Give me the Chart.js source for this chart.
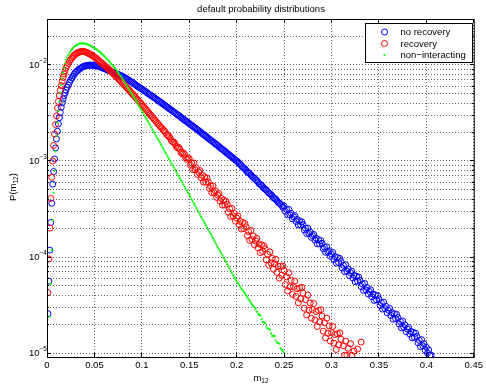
<!DOCTYPE html>
<html>
<head>
<meta charset="utf-8">
<script src="https://cdn.jsdelivr.net/npm/chart.js@4.4.1/dist/chart.umd.min.js"></script>
<style>
  html, body { margin: 0; padding: 0; background: #fff; }
  canvas { display: block; }
</style>
</head>
<body>
<canvas id="distChart" width="486" height="384"></canvas>
<script>
// m12 bin centres: 0.001 steps on the steep rise, then every 0.00125
const m12 = [
  0.001, 0.002, 0.003, 0.004, 0.005, 0.006, 0.007, 0.008, 0.009, 0.010, 0.011, 0.012, 0.013, 0.014, 0.015, 0.016, 0.017, 0.018, 0.019,
  0.02000, 0.02125, 0.02250, 0.02375, 0.02500, 0.02625, 0.02750, 0.02875,
  0.03000, 0.03125, 0.03250, 0.03375, 0.03500, 0.03625, 0.03750, 0.03875,
  0.04000, 0.04125, 0.04250, 0.04375, 0.04500, 0.04625, 0.04750, 0.04875,
  0.05000, 0.05125, 0.05250, 0.05375, 0.05500, 0.05625, 0.05750, 0.05875,
  0.06000, 0.06125, 0.06250, 0.06375, 0.06500, 0.06625, 0.06750, 0.06875,
  0.07000, 0.07125, 0.07250, 0.07375, 0.07500, 0.07625, 0.07750, 0.07875,
  0.08000, 0.08125, 0.08250, 0.08375, 0.08500, 0.08625, 0.08750, 0.08875,
  0.09000, 0.09125, 0.09250, 0.09375, 0.09500, 0.09625, 0.09750, 0.09875,
  0.10000, 0.10125, 0.10250, 0.10375, 0.10500, 0.10625, 0.10750, 0.10875,
  0.11000, 0.11125, 0.11250, 0.11375, 0.11500, 0.11625, 0.11750, 0.11875,
  0.12000, 0.12125, 0.12250, 0.12375, 0.12500, 0.12625, 0.12750, 0.12875,
  0.13000, 0.13125, 0.13250, 0.13375, 0.13500, 0.13625, 0.13750, 0.13875,
  0.14000, 0.14125, 0.14250, 0.14375, 0.14500, 0.14625, 0.14750, 0.14875,
  0.15000, 0.15125, 0.15250, 0.15375, 0.15500, 0.15625, 0.15750, 0.15875,
  0.16000, 0.16125, 0.16250, 0.16375, 0.16500, 0.16625, 0.16750, 0.16875,
  0.17000, 0.17125, 0.17250, 0.17375, 0.17500, 0.17625, 0.17750, 0.17875,
  0.18000, 0.18125, 0.18250, 0.18375, 0.18500, 0.18625, 0.18750, 0.18875,
  0.19000, 0.19125, 0.19250, 0.19375, 0.19500, 0.19625, 0.19750, 0.19875,
  0.20000, 0.20125, 0.20250, 0.20375, 0.20500, 0.20625, 0.20750, 0.20875,
  0.21000, 0.21125, 0.21250, 0.21375, 0.21500, 0.21625, 0.21750, 0.21875,
  0.22000, 0.22125, 0.22250, 0.22375, 0.22500, 0.22625, 0.22750, 0.22875,
  0.23000, 0.23125, 0.23250, 0.23375, 0.23500, 0.23625, 0.23750, 0.23875,
  0.24000, 0.24125, 0.24250, 0.24375, 0.24500, 0.24625, 0.24750, 0.24875,
  0.25000, 0.25125, 0.25250, 0.25375, 0.25500, 0.25625, 0.25750, 0.25875,
  0.26000, 0.26125, 0.26250, 0.26375, 0.26500, 0.26625, 0.26750, 0.26875,
  0.27000, 0.27125, 0.27250, 0.27375, 0.27500, 0.27625, 0.27750, 0.27875,
  0.28000, 0.28125, 0.28250, 0.28375, 0.28500, 0.28625, 0.28750, 0.28875,
  0.29000, 0.29125, 0.29250, 0.29375, 0.29500, 0.29625, 0.29750, 0.29875,
  0.30000, 0.30125, 0.30250, 0.30375, 0.30500, 0.30625, 0.30750, 0.30875,
  0.31000, 0.31125, 0.31250, 0.31375, 0.31500, 0.31625, 0.31750, 0.31875,
  0.32000, 0.32125, 0.32250, 0.32375, 0.32500, 0.32625, 0.32750, 0.32875,
  0.33000, 0.33125, 0.33250, 0.33375, 0.33500, 0.33625, 0.33750, 0.33875,
  0.34000, 0.34125, 0.34250, 0.34375, 0.34500, 0.34625, 0.34750, 0.34875,
  0.35000, 0.35125, 0.35250, 0.35375, 0.35500, 0.35625, 0.35750, 0.35875,
  0.36000, 0.36125, 0.36250, 0.36375, 0.36500, 0.36625, 0.36750, 0.36875,
  0.37000, 0.37125, 0.37250, 0.37375, 0.37500, 0.37625, 0.37750, 0.37875,
  0.38000, 0.38125, 0.38250, 0.38375, 0.38500, 0.38625, 0.38750, 0.38875,
  0.39000, 0.39125, 0.39250, 0.39375, 0.39500, 0.39625, 0.39750, 0.39875,
  0.40000, 0.40125, 0.40250, 0.40375, 0.40500
];

// P(m12), no recovery (blue circles)
const noRecovery = [
  2.57e-5, 5.62e-5, 1.18e-4, 2.29e-4, 3.63e-4, 5.75e-4, 7.76e-4, 1.05e-3, 1.37e-3, 1.70e-3, 2.04e-3, 2.43e-3, 2.82e-3, 3.20e-3, 3.63e-3, 4.03e-3, 4.42e-3, 4.79e-3, 5.13e-3,
  5.50e-3, 5.86e-3, 6.19e-3, 6.60e-3, 6.98e-3, 7.31e-3, 7.67e-3, 8.04e-3,
  8.36e-3, 8.58e-3, 8.77e-3, 8.97e-3, 9.20e-3, 9.35e-3, 9.53e-3, 9.68e-3,
  9.77e-3, 9.84e-3, 9.89e-3, 9.93e-3, 9.95e-3, 9.97e-3, 9.95e-3, 9.92e-3,
  9.89e-3, 9.82e-3, 9.77e-3, 9.72e-3, 9.64e-3, 9.52e-3, 9.42e-3, 9.30e-3,
  9.20e-3, 9.10e-3, 8.98e-3, 8.86e-3, 8.77e-3, 8.67e-3, 8.55e-3, 8.44e-3,
  8.36e-3, 8.25e-3, 8.15e-3, 8.05e-3, 7.96e-3, 7.88e-3, 7.78e-3, 7.68e-3,
  7.59e-3, 7.45e-3, 7.33e-3, 7.20e-3, 7.06e-3, 6.94e-3, 6.81e-3, 6.70e-3,
  6.58e-3, 6.44e-3, 6.31e-3, 6.17e-3, 6.04e-3, 5.93e-3, 5.83e-3, 5.72e-3,
  5.62e-3, 5.50e-3, 5.40e-3, 5.30e-3, 5.19e-3, 5.08e-3, 4.98e-3, 4.89e-3,
  4.79e-3, 4.69e-3, 4.60e-3, 4.51e-3, 4.42e-3, 4.33e-3, 4.24e-3, 4.16e-3,
  4.07e-3, 3.99e-3, 3.91e-3, 3.83e-3, 3.75e-3, 3.67e-3, 3.60e-3, 3.52e-3,
  3.45e-3, 3.38e-3, 3.30e-3, 3.24e-3, 3.17e-3, 3.10e-3, 3.04e-3, 2.98e-3,
  2.92e-3, 2.85e-3, 2.79e-3, 2.73e-3, 2.67e-3, 2.62e-3, 2.56e-3, 2.51e-3,
  2.46e-3, 2.40e-3, 2.35e-3, 2.30e-3, 2.25e-3, 2.21e-3, 2.16e-3, 2.11e-3,
  2.07e-3, 2.02e-3, 1.98e-3, 1.93e-3, 1.89e-3, 1.85e-3, 1.81e-3, 1.77e-3,
  1.73e-3, 1.69e-3, 1.65e-3, 1.62e-3, 1.58e-3, 1.55e-3, 1.51e-3, 1.48e-3,
  1.45e-3, 1.41e-3, 1.38e-3, 1.35e-3, 1.32e-3, 1.29e-3, 1.26e-3, 1.23e-3,
  1.20e-3, 1.18e-3, 1.15e-3, 1.12e-3, 1.10e-3, 1.07e-3, 1.05e-3, 1.02e-3,
  1.00e-3, 9.80e-4, 9.46e-4, 9.25e-4, 8.93e-4, 8.62e-4, 8.45e-4, 8.28e-4,
  7.98e-4, 7.70e-4, 7.55e-4, 7.40e-4, 7.14e-4, 6.92e-4, 6.75e-4, 6.62e-4,
  6.38e-4, 6.26e-4, 6.04e-4, 5.80e-4, 5.70e-4, 5.58e-4, 5.40e-4, 5.20e-4,
  5.09e-4, 5.00e-4, 4.82e-4, 4.64e-4, 4.56e-4, 4.47e-4, 4.31e-4, 4.14e-4,
  4.07e-4, 4.00e-4, 3.85e-4, 3.70e-4, 3.64e-4, 3.56e-4, 3.44e-4, 3.29e-4,
  3.40e-4, 2.99e-4, 3.13e-4, 2.75e-4, 3.13e-4, 2.75e-4, 2.85e-4, 2.50e-4,
  2.62e-4, 2.70e-4, 2.35e-4, 2.46e-4, 2.16e-4, 2.39e-4, 2.16e-4, 2.32e-4,
  2.18e-4, 1.91e-4, 2.00e-4, 1.76e-4, 2.00e-4, 1.76e-4, 1.83e-4, 1.60e-4,
  1.67e-4, 1.72e-4, 1.50e-4, 1.57e-4, 1.37e-4, 1.52e-4, 1.37e-4, 1.48e-4,
  1.39e-4, 1.22e-4, 1.27e-4, 1.12e-4, 1.28e-4, 1.12e-4, 1.16e-4, 1.02e-4,
  1.07e-4, 1.12e-4, 9.44e-5, 1.01e-4, 8.65e-5, 9.89e-5, 8.76e-5, 9.67e-5,
  8.98e-5, 7.70e-5, 8.20e-5, 7.04e-5, 8.31e-5, 7.12e-5, 7.51e-5, 6.43e-5,
  6.86e-5, 7.14e-5, 6.05e-5, 6.45e-5, 5.53e-5, 6.31e-5, 5.60e-5, 6.18e-5,
  5.74e-5, 4.92e-5, 5.24e-5, 4.49e-5, 5.30e-5, 4.55e-5, 4.80e-5, 4.11e-5,
  4.38e-5, 4.56e-5, 3.86e-5, 4.12e-5, 3.53e-5, 4.03e-5, 3.58e-5, 3.95e-5,
  3.66e-5, 3.13e-5, 3.35e-5, 2.87e-5, 3.39e-5, 2.90e-5, 3.06e-5, 2.62e-5,
  2.79e-5, 2.92e-5, 2.46e-5, 2.63e-5, 2.25e-5, 2.57e-5, 2.29e-5, 2.52e-5,
  2.34e-5, 2.01e-5, 2.14e-5, 1.83e-5, 2.16e-5, 1.85e-5, 1.96e-5, 1.67e-5,
  1.78e-5, 1.85e-5, 1.58e-5, 1.68e-5, 1.44e-5, 1.64e-5, 1.46e-5, 1.61e-5,
  1.49e-5, 1.28e-5, 1.36e-5, 1.17e-5, 1.38e-5, 1.19e-5, 1.25e-5, 1.07e-5,
  1.15e-5, 1.0e-5, 1.08e-5, 9.5e-6, 9.5e-6
];

// P(m12), recovery (red circles)
const recovery = [
  4.27e-5, 9.55e-5, 2.00e-4, 4.07e-4, 6.76e-4, 1.00e-3, 1.45e-3, 1.91e-3, 2.40e-3, 2.95e-3, 3.55e-3, 4.17e-3, 4.79e-3, 5.43e-3, 6.10e-3, 6.76e-3, 7.41e-3, 8.04e-3, 8.71e-3,
  9.33e-3, 9.85e-3, 1.035e-2, 1.09e-2, 1.135e-2, 1.18e-2, 1.225e-2, 1.26e-2,
  1.29e-2, 1.32e-2, 1.34e-2, 1.36e-2, 1.37e-2, 1.38e-2, 1.38e-2, 1.38e-2,
  1.37e-2, 1.36e-2, 1.34e-2, 1.32e-2, 1.30e-2, 1.28e-2, 1.26e-2, 1.235e-2,
  1.21e-2, 1.185e-2, 1.16e-2, 1.13e-2, 1.10e-2, 1.075e-2, 1.05e-2, 1.025e-2,
  1.00e-2, 9.75e-3, 9.51e-3, 9.26e-3, 9.02e-3, 8.78e-3, 8.55e-3, 8.32e-3,
  8.09e-3, 7.87e-3, 7.66e-3, 7.44e-3, 7.23e-3, 7.02e-3, 6.82e-3, 6.62e-3,
  6.43e-3, 6.23e-3, 6.04e-3, 5.86e-3, 5.68e-3, 5.50e-3, 5.33e-3, 5.17e-3,
  5.01e-3, 4.85e-3, 4.70e-3, 4.55e-3, 4.41e-3, 4.27e-3, 4.13e-3, 4.00e-3,
  3.87e-3, 3.74e-3, 3.62e-3, 3.50e-3, 3.38e-3, 3.27e-3, 3.16e-3, 3.05e-3,
  2.95e-3, 2.85e-3, 2.76e-3, 2.67e-3, 2.58e-3, 2.49e-3, 2.41e-3, 2.33e-3,
  2.25e-3, 2.20e-3, 2.10e-3, 2.06e-3, 1.97e-3, 1.88e-3, 1.84e-3, 1.80e-3,
  1.72e-3, 1.63e-3, 1.58e-3, 1.57e-3, 1.52e-3, 1.42e-3, 1.37e-3, 1.39e-3,
  1.33e-3, 1.23e-3, 1.19e-3, 1.22e-3, 1.17e-3, 1.08e-3, 1.04e-3, 1.07e-3,
  1.06e-3, 9.01e-4, 9.54e-4, 8.14e-4, 9.55e-4, 8.12e-4, 8.51e-4, 7.25e-4,
  7.68e-4, 7.95e-4, 6.68e-4, 7.08e-4, 6.03e-4, 6.84e-4, 6.03e-4, 6.61e-4,
  6.09e-4, 5.19e-4, 5.49e-4, 4.68e-4, 5.49e-4, 4.68e-4, 4.90e-4, 4.17e-4,
  4.42e-4, 4.57e-4, 3.84e-4, 4.08e-4, 3.47e-4, 3.93e-4, 3.47e-4, 3.80e-4,
  3.55e-4, 2.94e-4, 3.18e-4, 2.64e-4, 3.22e-4, 2.68e-4, 2.84e-4, 2.36e-4,
  2.55e-4, 2.68e-4, 2.18e-4, 2.35e-4, 1.96e-4, 2.29e-4, 1.98e-4, 2.23e-4,
  2.07e-4, 1.67e-4, 1.84e-4, 1.49e-4, 1.89e-4, 1.52e-4, 1.65e-4, 1.34e-4,
  1.47e-4, 1.57e-4, 1.25e-4, 1.37e-4, 1.11e-4, 1.34e-4, 1.14e-4, 1.31e-4,
  1.22e-4, 9.36e-5, 1.07e-4, 8.22e-5, 1.13e-4, 8.69e-5, 9.69e-5, 7.46e-5,
  8.52e-5, 9.45e-5, 6.92e-5, 8.04e-5, 6.03e-5, 8.04e-5, 6.47e-5, 8.04e-5,
  7.24e-5, 5.17e-5, 6.23e-5, 4.44e-5, 6.86e-5, 4.89e-5, 5.73e-5, 4.09e-5,
  4.92e-5, 5.62e-5, 3.89e-5, 4.69e-5, 3.34e-5, 4.76e-5, 3.68e-5, 4.82e-5,
  4.21e-5, 2.93e-5, 3.60e-5, 2.50e-5, 4.02e-5, 2.79e-5, 3.32e-5, 2.31e-5,
  2.83e-5, 3.28e-5, 2.21e-5, 2.71e-5, 1.89e-5, 2.78e-5, 2.11e-5, 2.83e-5,
  2.43e-5, 1.69e-5, 2.07e-5, 1.44e-5, 2.31e-5, 1.61e-5, 1.92e-5, 1.33e-5,
  1.63e-5, 1.89e-5, 1.27e-5, 1.56e-5, 1.09e-5, 1.59e-5, 1.22e-5, 1.62e-5,
  1.39e-5, null, 1.19e-5, 9.5e-6, 1.33e-5, 9.5e-6, 1.12e-5, null,
  1.25e-5, 9.5e-6, null, 1.05e-5, null, null, 1.1e-5, null,
  null, 1.3e-5
];

// P(m12), non-interacting (green dots)
const nonInteracting = [
  null, null, 2.40e-5, 5.25e-5, 1.18e-4, 2.40e-4, 4.68e-4, 7.94e-4, 1.26e-3, 1.82e-3, 2.51e-3, 3.31e-3, 4.17e-3, 5.13e-3, 6.17e-3, 7.24e-3, 8.32e-3, 9.33e-3, 1.035e-2,
  1.135e-2, 1.20e-2, 1.27e-2, 1.335e-2, 1.40e-2, 1.45e-2, 1.50e-2, 1.545e-2,
  1.585e-2, 1.615e-2, 1.64e-2, 1.66e-2, 1.67e-2, 1.68e-2, 1.68e-2, 1.68e-2,
  1.67e-2, 1.655e-2, 1.64e-2, 1.62e-2, 1.60e-2, 1.575e-2, 1.55e-2, 1.525e-2,
  1.50e-2, 1.47e-2, 1.445e-2, 1.41e-2, 1.38e-2, 1.35e-2, 1.32e-2, 1.28e-2,
  1.245e-2, 1.21e-2, 1.175e-2, 1.14e-2, 1.11e-2, 1.07e-2, 1.035e-2, 1.00e-2,
  9.66e-3, 9.33e-3, 9.02e-3, 8.66e-3, 8.32e-3, 7.99e-3, 7.67e-3, 7.37e-3,
  7.08e-3, 6.76e-3, 6.46e-3, 6.17e-3, 5.89e-3, 5.62e-3, 5.37e-3, 5.13e-3,
  4.90e-3, 4.68e-3, 4.47e-3, 4.27e-3, 4.07e-3, 3.86e-3, 3.67e-3, 3.51e-3,
  3.35e-3, 3.19e-3, 3.03e-3, 2.88e-3, 2.74e-3, 2.60e-3, 2.47e-3, 2.35e-3,
  2.23e-3, 2.12e-3, 2.02e-3, 1.92e-3, 1.82e-3, 1.73e-3, 1.65e-3, 1.57e-3,
  1.49e-3, 1.42e-3, 1.35e-3, 1.28e-3, 1.22e-3, 1.16e-3, 1.10e-3, 1.045e-3,
  9.93e-4, 9.44e-4, 8.97e-4, 8.53e-4, 8.11e-4, 7.71e-4, 7.33e-4, 6.97e-4,
  6.62e-4, 6.29e-4, 5.98e-4, 5.69e-4, 5.41e-4, 5.14e-4, 4.89e-4, 4.65e-4,
  4.42e-4, 4.19e-4, 3.98e-4, 3.78e-4, 3.59e-4, 3.41e-4, 3.24e-4, 3.08e-4,
  2.92e-4, 2.77e-4, 2.63e-4, 2.50e-4, 2.37e-4, 2.25e-4, 2.14e-4, 2.03e-4,
  1.93e-4, 1.83e-4, 1.74e-4, 1.65e-4, 1.57e-4, 1.49e-4, 1.41e-4, 1.34e-4,
  1.27e-4, 1.21e-4, 1.15e-4, 1.09e-4, 1.035e-4, 9.8e-5, 9.33e-5, 8.9e-5,
  8.41e-5, 8.0e-5, 7.59e-5, 7.2e-5, 6.84e-5, 6.5e-5, 6.17e-5, 5.85e-5,
  5.56e-5, 5.35e-5, 5.13e-5, 4.9e-5, 4.68e-5, 4.5e-5, 4.32e-5, 4.15e-5,
  3.98e-5, 3.8e-5, 3.63e-5, 3.5e-5, 3.35e-5, 3.2e-5, 3.09e-5, 3.0e-5,
  2.9e-5, 2.7e-5, 2.55e-5, 2.5e-5, 2.45e-5, 2.25e-5, 2.1e-5, 2.1e-5,
  2.05e-5, 1.9e-5, 1.8e-5, 1.8e-5, 1.75e-5, 1.6e-5, 1.5e-5, 1.52e-5,
  1.5e-5, 1.35e-5, 1.28e-5, 1.28e-5, 1.25e-5, 1.12e-5, 1.08e-5, 1.05e-5,
  1.0e-5
];

const seriesNames = ['no recovery', 'recovery', 'non\u2212interacting'];
const xTicks = [0, 0.05, 0.1, 0.15, 0.2, 0.25, 0.3, 0.35, 0.4, 0.45];
const xTickLabels = ['0', '0.05', '0.1', '0.15', '0.2', '0.25', '0.3', '0.35', '0.4', '0.45'];
const yDecades = [1e-5, 1e-4, 1e-3, 1e-2];
const yExponents = ['\u22125', '\u22124', '\u22123', '\u22122'];

const FONT = '"Liberation Sans", Arial, Helvetica, sans-serif';
const yMin = 9.1e-6, yMax = 0.0301;

// log grid lines at 1..9 x each decade
const yGrid = [];
yDecades.forEach(d => {
  for (let k = 1; k <= 9; k++) {
    if (k * d <= yMax) yGrid.push(k * d);
  }
});

function toPoints(values) {
  const pts = [];
  values.forEach((v, i) => {
    if (v !== null) pts.push({ x: m12[i], y: v });
  });
  return pts;
}

// draws text pieces (some lowered) centred on cx
function drawScripted(ctx, parts, cx, cy) {
  let total = 0;
  parts.forEach(p => {
    ctx.font = p.size + 'px ' + FONT;
    p.w = ctx.measureText(p.text).width;
    total += p.w;
  });
  let x = cx - total / 2;
  parts.forEach(p => {
    ctx.font = p.size + 'px ' + FONT;
    ctx.fillText(p.text, x, cy + (p.dy || 0));
    x += p.w;
  });
}

const matlabFrame = {
  id: 'matlabFrame',
  afterDraw(chart) {
    const { ctx, chartArea: a } = chart;
    const xs = chart.scales.x;
    const ys = chart.scales.y;
    const align = p => Math.round(p - 0.5) + 0.5;

    ctx.save();
    ctx.strokeStyle = '#000';
    ctx.lineWidth = 1;
    ctx.strokeRect(a.left + 0.5, a.top + 0.5, a.right - a.left, a.bottom - a.top);

    // tick marks pointing inwards
    ctx.beginPath();
    xTicks.forEach(v => {
      const px = align(xs.getPixelForValue(v));
      ctx.moveTo(px, a.bottom); ctx.lineTo(px, a.bottom - 4);
      ctx.moveTo(px, a.top); ctx.lineTo(px, a.top + 4);
    });
    yGrid.forEach(v => {
      const py = align(ys.getPixelForValue(v));
      const len = yDecades.includes(v) ? 4 : 2;
      ctx.moveTo(a.left, py); ctx.lineTo(a.left + len, py);
      ctx.moveTo(a.right, py); ctx.lineTo(a.right - len, py);
    });
    ctx.stroke();

    ctx.fillStyle = '#000';
    ctx.textBaseline = 'middle';

    // y tick labels 10^n
    yDecades.forEach((v, i) => {
      const py = ys.getPixelForValue(v);
      ctx.font = '9.5px ' + FONT;
      ctx.textAlign = 'right';
      ctx.fillText('10', 39.5, py + 0.5);
      ctx.font = '6.5px ' + FONT;
      ctx.textAlign = 'left';
      ctx.fillText(yExponents[i], 39.5, py - 4);
    });

    // title and axis labels
    ctx.textAlign = 'left';
    drawScripted(ctx, [{ text: 'default probability distributions', size: 9.5 }], 261, 9);
    drawScripted(ctx, [{ text: 'm', size: 9.5 }, { text: '12', size: 6.5, dy: 3 }], 261, 378);
    ctx.save();
    ctx.translate(13, 187);
    ctx.rotate(-Math.PI / 2);
    drawScripted(ctx, [{ text: 'P(m', size: 9.5 }, { text: '12', size: 6.5, dy: 3 }, { text: ')', size: 9.5 }], 0, 0);
    ctx.restore();

    // legend box
    ctx.fillStyle = '#fff';
    ctx.fillRect(365.5, 23.5, 107, 39);
    ctx.strokeRect(365.5, 23.5, 107, 39);
    const rows = [32, 43.5, 55];
    const colours = ['#0000ff', '#ff0000', '#00ff00'];
    rows.forEach((ry, i) => {
      ctx.beginPath();
      if (i < 2) {
        ctx.strokeStyle = colours[i];
        ctx.arc(384.5, ry, 3, 0, Math.PI * 2);
        ctx.stroke();
      } else {
        ctx.fillStyle = colours[i];
        ctx.arc(384.5, ry, 1.1, 0, Math.PI * 2);
        ctx.fill();
      }
      ctx.fillStyle = '#000';
      ctx.font = '9.5px ' + FONT;
      ctx.textAlign = 'left';
      ctx.fillText(seriesNames[i], 400.5, ry + 0.5);
    });
    ctx.restore();
  }
};

const gridStyle = { color: 'rgba(0,0,0,0.6)', lineWidth: 1, drawTicks: false };
const borderStyle = { display: false, dash: [1, 2] };

const ctx = document.getElementById('distChart').getContext('2d');
new Chart(ctx, {
  type: 'scatter',
  data: {
    datasets: [
      {
        label: seriesNames[0],
        data: toPoints(noRecovery),
        borderColor: '#0000ff',
        backgroundColor: 'rgba(0,0,0,0)',
        pointRadius: 3,
        pointBorderWidth: 1,
        order: 3
      },
      {
        label: seriesNames[1],
        data: toPoints(recovery),
        borderColor: '#ff0000',
        backgroundColor: 'rgba(0,0,0,0)',
        pointRadius: 3,
        pointBorderWidth: 1,
        order: 2
      },
      {
        label: seriesNames[2],
        data: toPoints(nonInteracting),
        borderColor: '#00ff00',
        backgroundColor: '#00ff00',
        pointRadius: 1.1,
        pointBorderWidth: 0,
        order: 1
      }
    ]
  },
  options: {
    responsive: false,
    animation: false,
    devicePixelRatio: 1,
    events: [],
    layout: { padding: { left: 0, top: 19, right: 11, bottom: 0 } },
    plugins: {
      legend: { display: false },
      title: { display: false },
      tooltip: { enabled: false }
    },
    scales: {
      x: {
        type: 'linear',
        min: 0,
        max: 0.45,
        afterBuildTicks: scale => { scale.ticks = xTicks.map(v => ({ value: v })); },
        afterFit: scale => { scale.height = 27; },
        ticks: {
          autoSkip: false,
          maxRotation: 0,
          padding: 3,
          color: '#000',
          font: { family: FONT, size: 9.5 },
          callback: (value, index) => xTickLabels[index]
        },
        grid: gridStyle,
        border: borderStyle
      },
      y: {
        type: 'logarithmic',
        min: yMin,
        max: yMax,
        afterBuildTicks: scale => { scale.ticks = yGrid.map(v => ({ value: v })); },
        afterFit: scale => { scale.width = 47; },
        ticks: { display: false },
        grid: gridStyle,
        border: borderStyle
      }
    }
  },
  plugins: [matlabFrame]
});
</script>
</body>
</html>
